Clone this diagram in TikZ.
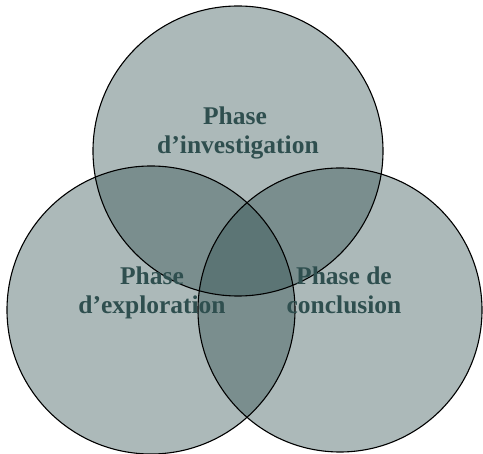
\documentclass[tikz,border=0pt]{standalone}
\usepackage{fontspec}
\setmainfont{Liberation Serif}
\definecolor{slate}{RGB}{47,79,79}
\begin{document}
\begin{tikzpicture}[x=1pt,y=-1pt,
  disc/.style={fill=slate,fill opacity=0.40},
  ring/.style={draw=black,line width=1.1pt},
  lbl/.style={text=slate,font=\bfseries\fontsize{25.5}{30}\selectfont,inner sep=0pt,anchor=base}]
\useasboundingbox (0,0) rectangle (483,454);
\coordinate (ct) at (238,151);
\coordinate (cl) at (151,310);
\coordinate (cr) at (340,310);
\fill[disc] (ct) circle[radius=145];
\fill[disc] (cl) circle[radius=144];
\fill[disc] (cr) circle[radius=142];
\draw[ring] (ct) circle[radius=145];
\draw[ring] (cl) circle[radius=144];
\draw[ring] (cr) circle[radius=142];
\node[lbl] (t1) at (235,125) {Phase};
\node[lbl] (t2) at (238,154) {d’investigation};
\node[lbl] (l1) at (152,285) {Phase};
\node[lbl] (l2) at (152,314) {d’exploration};
\node[lbl] (r1) at (344,285) {Phase de};
\node[lbl] (r2) at (344,314) {conclusion};
\end{tikzpicture}
\end{document}
